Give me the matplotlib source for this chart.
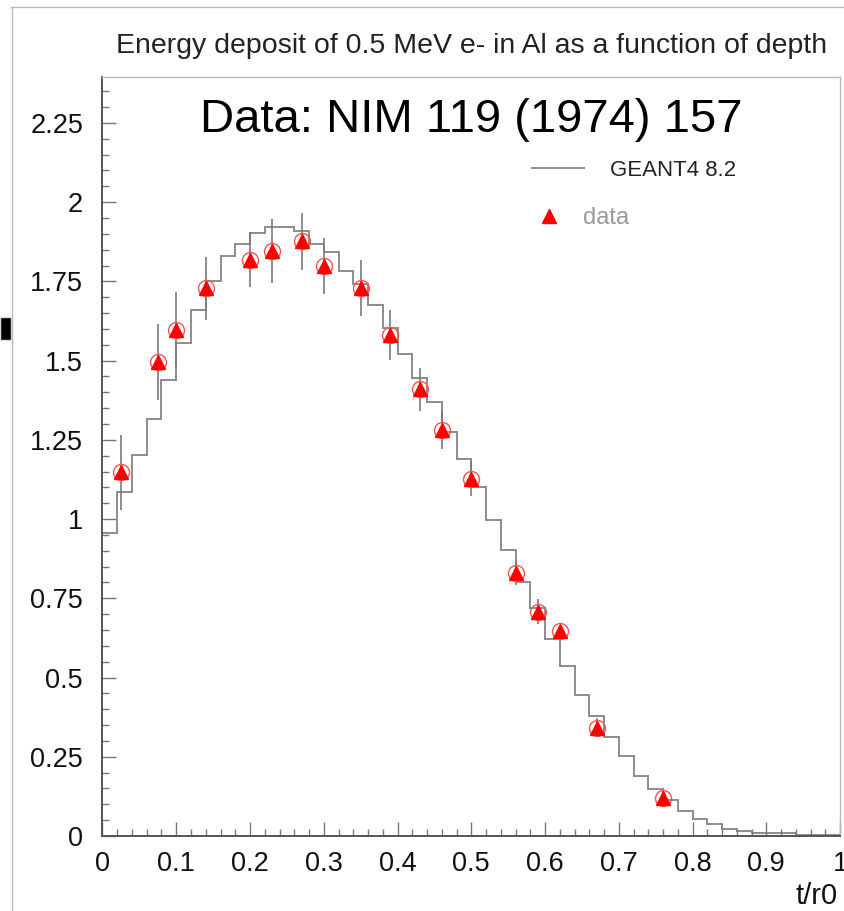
import numpy as np
import matplotlib.pyplot as plt
from matplotlib.lines import Line2D
from matplotlib.patches import Rectangle

# GEANT4 8.2 histogram, 50 bins on [0, 1]
bin_edges = np.linspace(0.0, 1.0, 51)
geant4 = [0.955, 1.085, 1.203, 1.317, 1.440, 1.557, 1.661, 1.752, 1.830, 1.867,
          1.902, 1.923, 1.923, 1.908, 1.867, 1.842, 1.784, 1.741, 1.676, 1.603,
          1.522, 1.446, 1.369, 1.276, 1.190, 1.100, 0.998, 0.902, 0.800, 0.721,
          0.622, 0.536, 0.446, 0.378, 0.314, 0.253, 0.190, 0.148, 0.114, 0.080,
          0.053, 0.037, 0.022, 0.016, 0.008, 0.008, 0.008, 0.003, 0.002, 0.002]

# measured data (NIM 119 (1974) 157)
data_x = [0.025, 0.075, 0.10, 0.14, 0.20, 0.23, 0.27, 0.30, 0.35, 0.39,
          0.43, 0.46, 0.50, 0.56, 0.59, 0.62, 0.67, 0.76]
data_y = [1.148, 1.496, 1.596, 1.728, 1.819, 1.846, 1.877, 1.798, 1.728, 1.580,
          1.410, 1.281, 1.128, 0.829, 0.708, 0.647, 0.342, 0.119]
data_err = [0.118, 0.12, 0.12, 0.10, 0.088, 0.10, 0.09, 0.089, 0.088, 0.079,
            0.068, 0.06, 0.055, 0.037, 0.04, 0.02, 0.03, 0.01]

yticks = [0, 0.25, 0.5, 0.75, 1, 1.25, 1.5, 1.75, 2, 2.25]
ytick_labels = ['0', '0.25', '0.5', '0.75', '1', '1.25', '1.5', '1.75', '2', '2.25']
xticks = [0, 0.1, 0.2, 0.3, 0.4, 0.5, 0.6, 0.7, 0.8, 0.9, 1]
xtick_labels = ['0', '0.1', '0.2', '0.3', '0.4', '0.5', '0.6', '0.7', '0.8', '0.9', '1']

plt.rcParams['font.family'] = ['Liberation Sans', 'DejaVu Sans']

fig = plt.figure(figsize=(8.45, 9.11), dpi=100)
ax = fig.add_axes([0.1213, 0.0823, 0.8728, 0.8332])

ax.stairs(geant4, bin_edges, baseline=None, color='#8c8c8c', linewidth=1.4)

ax.errorbar(data_x, data_y, yerr=data_err, fmt='none', ecolor='#7a7a7a',
            elinewidth=1.2, capsize=0, zorder=3)
ax.plot(data_x, data_y, 'o', ms=11.5, mfc='none', mec='#ff5050', mew=1.0, zorder=4)
ax.plot(data_x, data_y, '^', ms=10, color='#ff0000', mec='#ff0000', zorder=5)

ax.set_xlim(0, 1)
ax.set_ylim(0, 2.395)
ax.set_xticks(xticks)
ax.set_xticklabels(xtick_labels)
ax.set_yticks(yticks)
ax.set_yticklabels(ytick_labels)
ax.set_xticks(np.arange(0, 1.001, 0.02), minor=True)
ax.set_yticks(np.arange(0, 2.39, 0.05), minor=True)
ax.tick_params(which='both', direction='in', color='#777777', width=1.0,
               labelsize=19.5, labelcolor='#111111')
ax.tick_params(which='major', length=10)
ax.tick_params(which='minor', length=5)
ax.tick_params(axis='y', pad=14)
ax.tick_params(axis='x', pad=11)

for side in ['left', 'bottom']:
    ax.spines[side].set_color('#555555')
    ax.spines[side].set_linewidth(1.4)
for side in ['top', 'right']:
    ax.spines[side].set_color('#bbbbbb')
    ax.spines[side].set_linewidth(1.0)

ax.text(0.997, -0.089, 't/r0', transform=ax.transAxes, ha='right', va='baseline',
        fontsize=21, color='#111111')

ax.text(0.5, 0.927, 'Data: NIM 119 (1974) 157', transform=ax.transAxes,
        ha='center', va='baseline', fontsize=34, color='black')

# legend: two separate boxes like the ROOT layout
leg1 = ax.legend([Line2D([], [], color='#8c8c8c', linewidth=1.4)], ['GEANT4 8.2'],
                 loc='center left', bbox_to_anchor=(0.583, 0.877), frameon=False,
                 fontsize=16, handlelength=2.3, handletextpad=1.2,
                 borderaxespad=0, borderpad=0)
leg1.get_texts()[0].set_color('#222222')
ax.add_artist(leg1)
leg2 = ax.legend([Line2D([], [], marker='^', ls='none', ms=10, color='#ff0000')], ['data'],
                 loc='center left', bbox_to_anchor=(0.583, 0.814), frameon=False,
                 fontsize=17, handlelength=1.4, handletextpad=0.75,
                 borderaxespad=0, borderpad=0)
leg2.get_texts()[0].set_color('#9a9a9a')

fig.text(0.558, 0.9418, 'Energy deposit of 0.5 MeV e- in Al as a function of depth',
         ha='center', va='baseline', fontsize=20.5, color='#222222')

# outer frame of the canvas
fig.add_artist(Line2D([0.013, 1.0], [0.9923, 0.9923], color='#bbbbbb', lw=1.0))
fig.add_artist(Line2D([0.0142, 0.0142], [0.0, 0.9923], color='#bbbbbb', lw=1.0))
fig.add_artist(Rectangle((0.0, 0.627), 0.013, 0.025, facecolor='black',
                         edgecolor='#dddddd', lw=1.0))

fig.savefig('out.png', dpi=100)
